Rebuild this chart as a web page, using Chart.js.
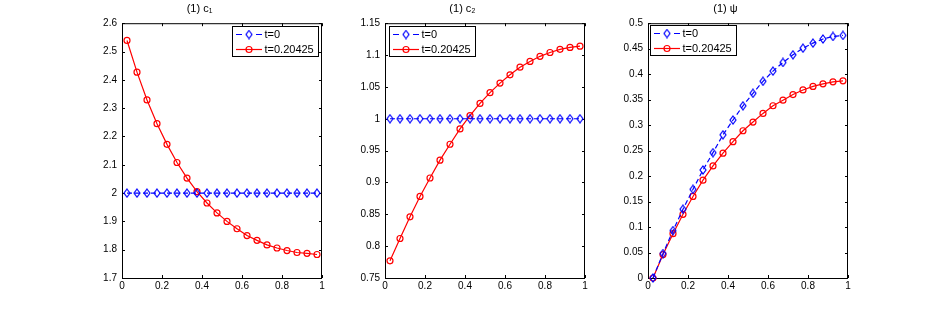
<!DOCTYPE html>
<html>
<head>
<meta charset="utf-8">
<title>(1) c1, c2, psi</title>
<script src="https://cdn.jsdelivr.net/npm/chart.js@4.4.1/dist/chart.umd.min.js"></script>
<style>
  body { margin: 0; background: #fff; }
  #wrap { position: relative; width: 937px; height: 313px; overflow: hidden; }
  #wrap canvas { position: absolute; top: 0; }
</style>
</head>
<body>
<div id="wrap">
  <canvas id="plotC1" width="265" height="313" style="left:77px"></canvas>
  <canvas id="plotC2" width="265" height="313" style="left:340px"></canvas>
  <canvas id="plotPsi" width="265" height="313" style="left:603px"></canvas>
</div>
<script>
// grid points (cell centres)
const xs = [0.025, 0.075, 0.125, 0.175, 0.225, 0.275, 0.325, 0.375, 0.425, 0.475,
            0.525, 0.575, 0.625, 0.675, 0.725, 0.775, 0.825, 0.875, 0.925, 0.975];

const seriesLabels = ['t=0', 't=0.20425'];

const c1Start = [2, 2, 2, 2, 2, 2, 2, 2, 2, 2, 2, 2, 2, 2, 2, 2, 2, 2, 2, 2];
const c1End = [2.539, 2.427, 2.329, 2.245, 2.172, 2.108, 2.053, 2.005, 1.965, 1.930,
               1.900, 1.874, 1.850, 1.833, 1.817, 1.806, 1.797, 1.790, 1.787, 1.783];

const c2Start = [1, 1, 1, 1, 1, 1, 1, 1, 1, 1, 1, 1, 1, 1, 1, 1, 1, 1, 1, 1];
const c2End = [0.777, 0.812, 0.846, 0.878, 0.907, 0.935, 0.960, 0.984, 1.005, 1.024,
               1.041, 1.056, 1.069, 1.081, 1.090, 1.098, 1.104, 1.109, 1.112, 1.114];

const psiStart = [0, 0.048, 0.093, 0.135, 0.174, 0.212, 0.246, 0.281, 0.310, 0.338,
                  0.3625, 0.386, 0.406, 0.423, 0.438, 0.451, 0.461, 0.469, 0.474, 0.476];
const psiEnd = [0, 0.046, 0.087, 0.125, 0.160, 0.192, 0.220, 0.245, 0.2675, 0.289,
                0.306, 0.323, 0.338, 0.349, 0.360, 0.369, 0.376, 0.381, 0.385, 0.387];

const FONT = '"Liberation Sans", Arial, Helvetica, sans-serif';
const BLUE = 'rgb(0,0,255)';
const RED = 'rgb(255,0,0)';

function pts(ys) {
  return xs.map((x, i) => ({ x: x, y: ys[i] }));
}

// matlab's diamond marker is a bit taller than wide
function diamondMarker(color) {
  const c = document.createElement('canvas');
  c.width = 8; c.height = 10;
  const g = c.getContext('2d');
  g.strokeStyle = color;
  g.lineWidth = 1.2;
  g.beginPath();
  g.moveTo(4, 1); g.lineTo(7, 5); g.lineTo(4, 9); g.lineTo(1, 5); g.closePath();
  g.stroke();
  return c;
}
const blueDiamond = diamondMarker(BLUE);

// matlab style box with ticks pointing inwards on all four sides
const boxAxes = {
  id: 'boxAxes',
  beforeDatasetsDraw(chart) {
    const { ctx, chartArea: a, scales } = chart;
    const len = 3;
    ctx.save();
    ctx.strokeStyle = '#000';
    ctx.lineWidth = 1;
    ctx.beginPath();
    scales.x.ticks.forEach(t => {
      const px = Math.round(scales.x.getPixelForValue(t.value)) + 0.5;
      ctx.moveTo(px, a.bottom); ctx.lineTo(px, a.bottom - len);
      ctx.moveTo(px, a.top); ctx.lineTo(px, a.top + len);
    });
    scales.y.ticks.forEach(t => {
      const py = Math.round(scales.y.getPixelForValue(t.value)) + 0.5;
      ctx.moveTo(a.left, py); ctx.lineTo(a.left + len, py);
      ctx.moveTo(a.right, py); ctx.lineTo(a.right - len, py);
    });
    ctx.stroke();
    ctx.strokeRect(a.left + 0.5, a.top + 0.5, a.right - a.left - 1, a.bottom - a.top);
    ctx.restore();
  }
};

// legend box inside the axes, line sample + marker + label
const boxLegend = {
  id: 'boxLegend',
  afterDraw(chart, args, opts) {
    const { ctx, chartArea: a } = chart;
    const w = 86, h = 30;
    const x0 = Math.round(opts.side === 'right' ? a.right - opts.dx - w : a.left + opts.dx);
    const y0 = Math.round(a.top + opts.dy);
    ctx.save();
    ctx.fillStyle = '#fff';
    ctx.fillRect(x0, y0, w, h);
    ctx.strokeStyle = '#000';
    ctx.lineWidth = 1;
    ctx.strokeRect(x0 + 0.5, y0 + 0.5, w, h);
    chart.data.datasets.forEach((ds, i) => {
      const y = Math.round(y0 + 8 + i * 14.5) + 0.5;
      ctx.strokeStyle = ds.borderColor;
      ctx.lineWidth = ds.borderWidth;
      ctx.setLineDash(ds.borderDash ? [6, 14] : []);
      ctx.beginPath();
      ctx.moveTo(x0 + 4, y); ctx.lineTo(x0 + 30, y);
      ctx.stroke();
      ctx.setLineDash([]);
      ctx.fillStyle = 'rgba(0,0,0,0)';
      Chart.helpers.drawPoint(ctx, { pointStyle: ds.pointStyle, radius: ds.pointRadius, borderWidth: ds.pointBorderWidth, rotation: 0 }, x0 + 17, y);
      ctx.fillStyle = '#000';
      ctx.font = '11px ' + FONT;
      ctx.textBaseline = 'middle';
      ctx.textAlign = 'left';
      ctx.fillText(ds.label, x0 + 32.5, y);
    });
    ctx.restore();
  }
};

function makePlot(id, title, start, end, yMin, yMax, yStep, legendSide, legendDx, legendDy) {
  new Chart(document.getElementById(id), {
    type: 'line',
    data: {
      datasets: [
        {
          label: seriesLabels[0],
          data: pts(start),
          borderColor: BLUE,
          borderWidth: 1.2,
          borderDash: [5, 3],
          pointStyle: blueDiamond,
          pointRadius: 3.5,
          pointBorderColor: BLUE,
          pointBackgroundColor: 'rgba(0,0,0,0)',
          pointBorderWidth: 1.2
        },
        {
          label: seriesLabels[1],
          data: pts(end),
          borderColor: RED,
          borderWidth: 1.2,
          pointStyle: 'circle',
          pointRadius: 3,
          pointBorderColor: RED,
          pointBackgroundColor: 'rgba(0,0,0,0)',
          pointBorderWidth: 1.2
        }
      ]
    },
    options: {
      responsive: false,
      animation: false,
      layout: { padding: { top: 0, right: 20, bottom: 0, left: 0 } },
      datasets: { line: { clip: 8, tension: 0 } },
      plugins: {
        legend: { display: false },
        tooltip: { enabled: false },
        title: {
          display: true,
          text: title,
          color: '#000',
          font: { family: FONT, size: 11, weight: 'normal', lineHeight: 1.2 },
          padding: { top: 2, bottom: 8 }
        },
        boxLegend: { side: legendSide, dx: legendDx, dy: legendDy }
      },
      scales: {
        x: {
          type: 'linear',
          min: 0, max: 1,
          grid: { drawOnChartArea: false, drawTicks: false },
          border: { display: false },
          ticks: {
            stepSize: 0.2,
            padding: 2,
            maxRotation: 0,
            color: '#000',
            font: { family: FONT, size: 10 },
            callback: v => String(Math.round(v * 1000) / 1000)
          },
          afterFit: s => { s.height = 35; }
        },
        y: {
          type: 'linear',
          min: yMin, max: yMax,
          grid: { drawOnChartArea: false, drawTicks: false },
          border: { display: false },
          ticks: {
            stepSize: yStep,
            padding: 5,
            color: '#000',
            font: { family: FONT, size: 10 },
            callback: v => String(Math.round(v * 1000) / 1000)
          },
          afterFit: s => { s.width = 45; }
        }
      }
    },
    plugins: [boxAxes, boxLegend]
  });
}

makePlot('plotC1', '(1) c\u2081', c1Start, c1End, 1.7, 2.6, 0.1, 'right', 4, 3);
makePlot('plotC2', '(1) c\u2082', c2Start, c2End, 0.75, 1.15, 0.05, 'left', 4, 3);
makePlot('plotPsi', '(1) \u03c8', psiStart, psiEnd, 0, 0.5, 0.05, 'left', 2, 2);
</script>
</body>
</html>
